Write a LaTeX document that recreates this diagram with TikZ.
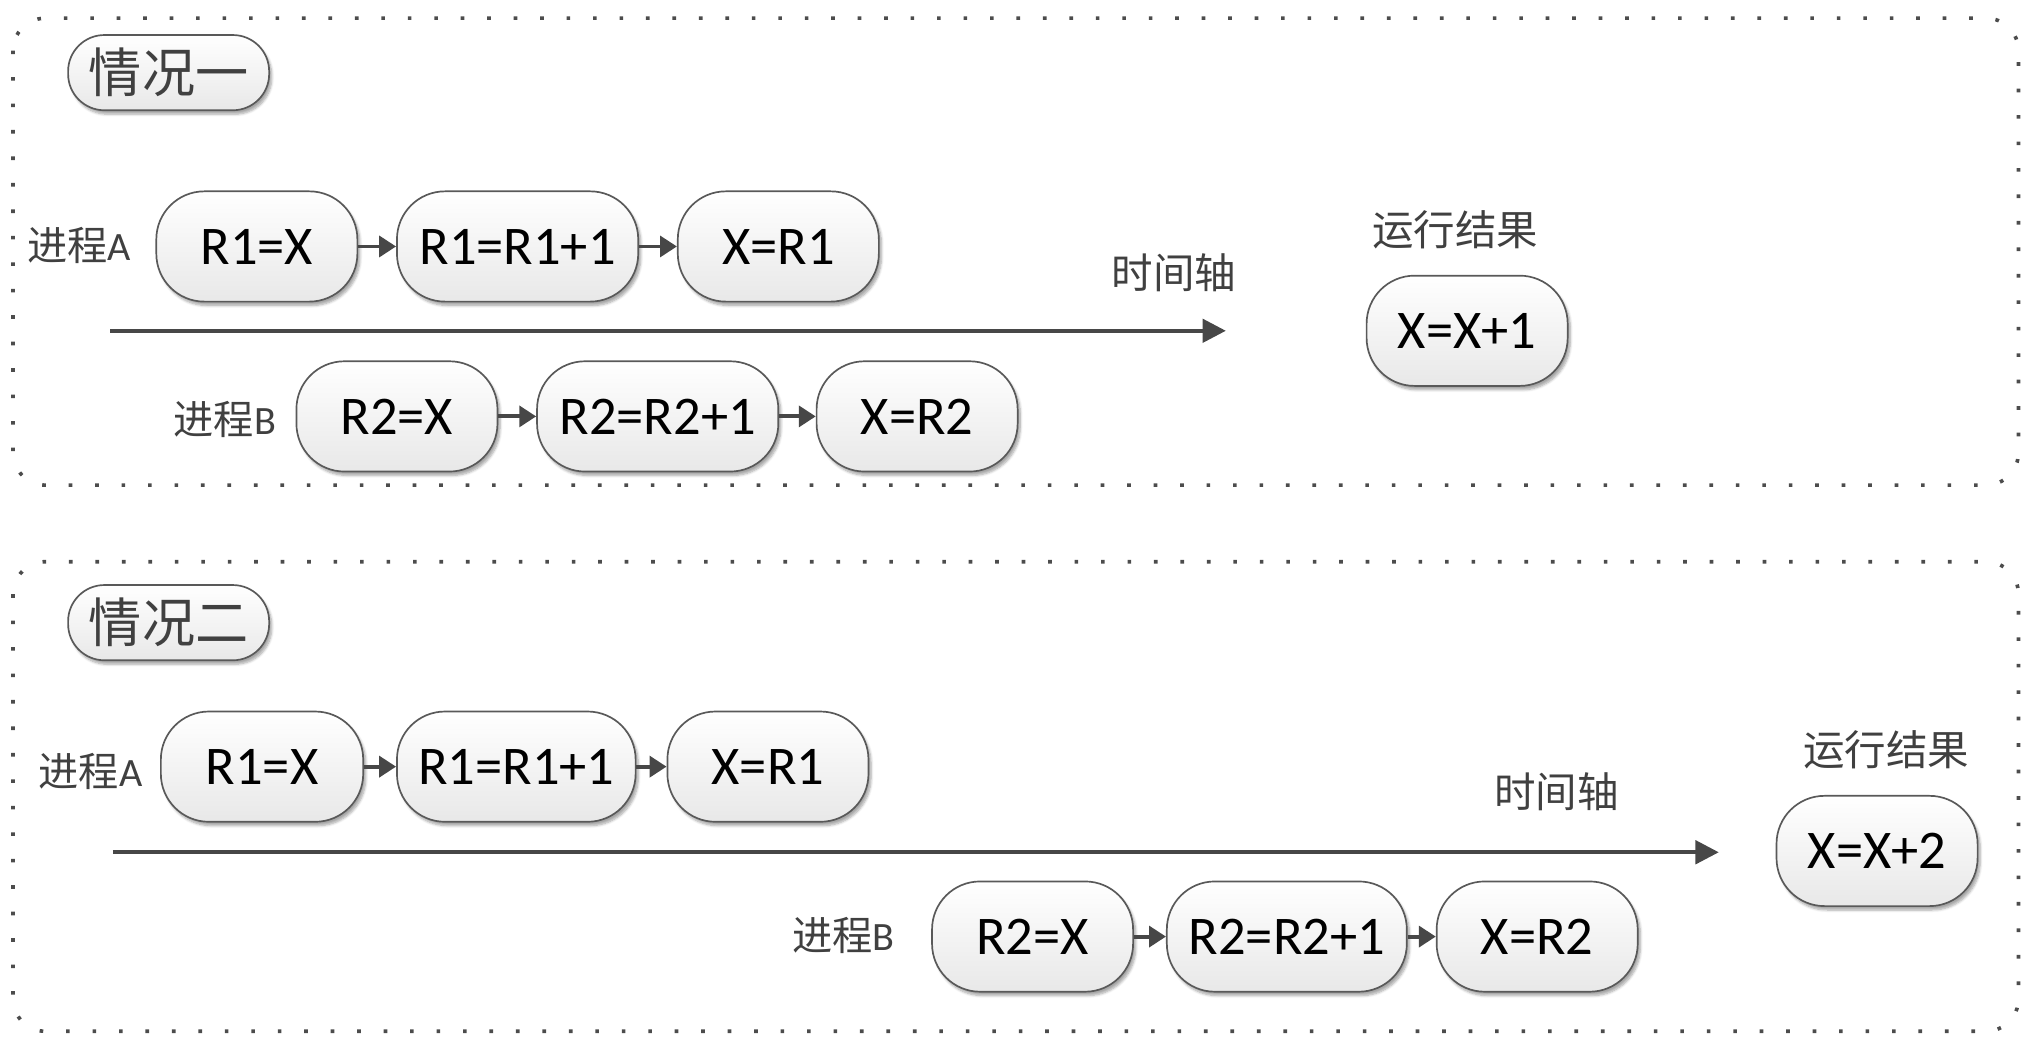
\documentclass[tikz,border=0pt]{standalone}
\usepackage{fontspec}
\setmainfont{Carlito}
\newfontfamily\cjk{Noto Sans CJK SC}
\usetikzlibrary{arrows.meta,shadows.blur}
\begin{document}
\begin{tikzpicture}[x=1pt,y=1pt,
  stepnode/.style={draw=black!65, line width=1.3pt, rounded corners=37pt,
    top color=white, bottom color=black!9, minimum height=85pt, inner sep=0pt,
    blur shadow={shadow xshift=2pt, shadow yshift=-3pt, shadow blur steps=6, shadow opacity=35},
    font=\fontsize{42}{42}\selectfont},
  titlenode/.style={draw=black!65, line width=1.3pt, rounded corners=28pt,
    top color=white, bottom color=black!9, minimum height=58pt, minimum width=155pt, inner sep=0pt,
    blur shadow={shadow xshift=2pt, shadow yshift=-3pt, shadow blur steps=6, shadow opacity=35},
    font=\cjk\fontsize{41}{41}\selectfont, text=black!75},
  proclabel/.style={font=\fontsize{31}{31}\selectfont, text=black!75, anchor=east, inner sep=0pt},
  cjklabel/.style={font=\cjk\fontsize{32}{32}\selectfont, text=black!75, inner sep=0pt},
  flow/.style={line width=3pt, draw=black!72, -{Triangle[length=13pt,width=16pt]}},
  axis/.style={line width=3pt, draw=black!72, -{Triangle[length=18pt,width=18pt]}},
  dotbox/.style={draw=black!70, line width=2.8pt, dash pattern=on 2.8pt off 17.6pt, rounded corners=25pt}
]
\useasboundingbox (0,0) rectangle (1568,-806);

% ---------- case 1 ----------
\draw[dotbox] (10,-14) rectangle (1556,-374);
\node[titlenode] (t1) at (130,-56) {情况一};
\node[proclabel] (la1) at (101,-189) {{\cjk 进程}A};
\node[stepnode, minimum width=155pt] (a11) at (198,-190) {R1=X};
\node[stepnode, minimum width=186pt] (a12) at (399,-190) {R1=R1+1};
\node[stepnode, minimum width=155pt] (a13) at (600,-190) {X=R1};
\draw[flow] (a11) -- (a12);
\draw[flow] (a12) -- (a13);
\coordinate (s1) at (85,-255);
\coordinate (e1) at (945,-255);
\draw[axis] (s1) -- (e1);
\node[cjklabel] (ax1) at (905,-210) {时间轴};
\node[proclabel] (lb1) at (213,-323) {{\cjk 进程}B};
\node[stepnode, minimum width=155pt] (b11) at (306,-321) {R2=X};
\node[stepnode, minimum width=186pt] (b12) at (507,-321) {R2=R2+1};
\node[stepnode, minimum width=155pt] (b13) at (707,-321) {X=R2};
\draw[flow] (b11) -- (b12);
\draw[flow] (b12) -- (b13);
\node[cjklabel] (rl1) at (1122,-177) {运行结果};
\node[stepnode, minimum width=155pt] (r1) at (1131,-255) {X=X+1};

% ---------- case 2 ----------
\draw[dotbox] (10,-433) rectangle (1556,-795);
\node[titlenode] (t2) at (130,-480) {情况二};
\node[proclabel] (la2) at (110,-595) {{\cjk 进程}A};
\node[stepnode, minimum width=156pt] (a21) at (202,-591) {R1=X};
\node[stepnode, minimum width=184pt] (a22) at (398,-591) {R1=R1+1};
\node[stepnode, minimum width=155pt] (a23) at (592,-591) {X=R1};
\draw[flow] (a21) -- (a22);
\draw[flow] (a22) -- (a23);
\coordinate (s2) at (87,-657);
\coordinate (e2) at (1325,-657);
\draw[axis] (s2) -- (e2);
\node[cjklabel] (ax2) at (1200,-610) {时间轴};
\node[proclabel] (lb2) at (690,-721) {{\cjk 进程}B};
\node[stepnode, minimum width=155pt] (b21) at (796,-722) {R2=X};
\node[stepnode, minimum width=185pt] (b22) at (992,-722) {R2=R2+1};
\node[stepnode, minimum width=155pt] (b23) at (1185,-722) {X=R2};
\draw[flow] (b21) -- (b22);
\draw[flow] (b22) -- (b23);
\node[cjklabel] (rl2) at (1454,-578) {运行结果};
\node[stepnode, minimum width=155pt] (r2) at (1447,-656) {X=X+2};
\end{tikzpicture}
\end{document}
